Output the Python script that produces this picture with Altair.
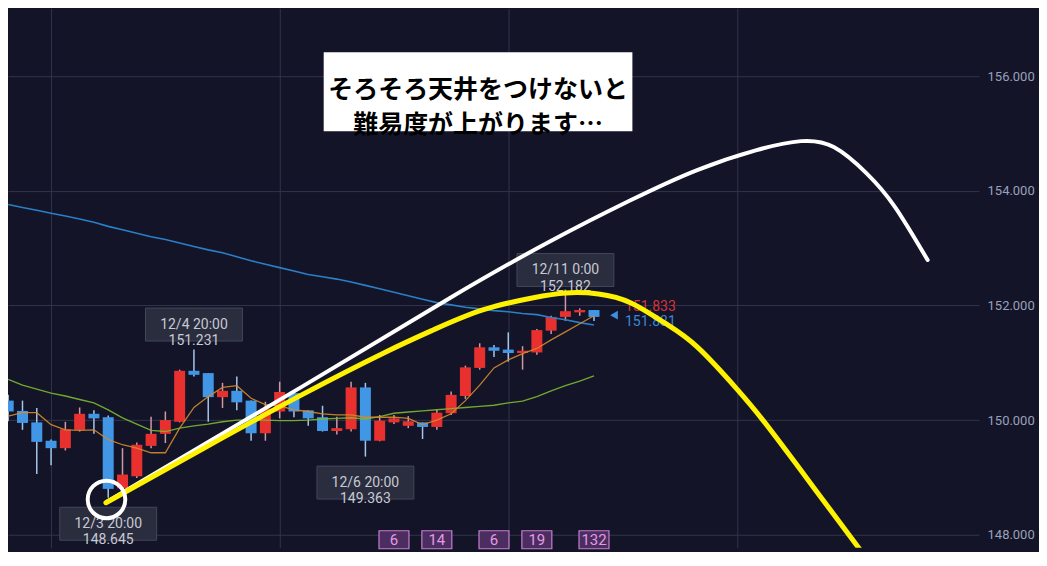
import altair as alt
import pandas as pd

# ---------------- data ----------------
candle_i = list(range(42))
opens = [150.34, 150.16, 149.96, 149.64, 149.51, 149.83, 150.11, 150.05, 148.81, 149.02,
         149.55, 149.76, 149.97, 150.86, 150.82, 150.40, 150.51, 150.34, 149.77, 150.15,
         150.47, 150.17, 150.05, 149.81, 149.84, 150.57, 149.64, 149.96, 149.90, 149.96,
         149.88, 150.12, 150.42, 150.91, 151.27, 151.23, 151.17, 151.18, 151.56, 151.80,
         151.88, 151.92]
highs = [150.44, 150.34, 150.21, 149.66, 149.97, 150.22, 150.17, 150.08, 149.51, 149.61,
         150.06, 150.15, 150.88, 151.231, 150.82, 150.65, 150.76, 150.34, 150.32, 150.67,
         150.47, 150.17, 150.25, 150.06, 150.67, 150.65, 150.09, 150.09, 150.07, 149.96,
         150.18, 150.50, 150.95, 151.34, 151.31, 151.53, 151.29, 151.59, 151.82, 152.182,
         151.95, 151.92]
lows = [149.98, 149.83, 149.06, 149.21, 149.47, 149.80, 149.76, 148.645, 148.78, 148.99,
        149.51, 149.60, 149.96, 150.76, 149.97, 150.21, 150.17, 149.64, 149.64, 150.03,
        150.05, 149.90, 149.80, 149.75, 149.80, 149.363, 149.63, 149.93, 149.86, 149.67,
        149.83, 150.09, 150.37, 150.88, 151.10, 151.02, 150.88, 151.14, 151.50, 151.73,
        151.82, 151.73]
closes = [150.15, 149.95, 149.62, 149.51, 149.84, 150.11, 150.03, 148.80, 149.05, 149.57,
          149.76, 150.00, 150.86, 150.79, 150.40, 150.51, 150.31, 149.77, 150.20, 150.49,
          150.15, 150.03, 149.81, 149.86, 150.57, 149.64, 149.99, 150.03, 149.98, 149.88,
          150.13, 150.44, 150.92, 151.27, 151.21, 151.17, 151.21, 151.57, 151.80, 151.90,
          151.92, 151.80]

ma_short = [150.07, 150.13, 150.13, 149.92, 149.83, 149.82, 149.83, 149.66, 149.57, 149.51,
            149.43, 149.43, 149.86, 150.22, 150.41, 150.57, 150.60, 150.38, 150.27, 150.25,
            150.18, 150.15, 150.11, 150.09, 150.09, 150.05, 150.05, 150.05, 150.03, 149.92,
            150.00, 150.11, 150.34, 150.61, 150.91, 151.05, 151.16, 151.25, 151.40, 151.54,
            151.68, 151.82]
ma_mid = [150.71, 150.61, 150.54, 150.47, 150.42, 150.36, 150.30, 150.18, 150.04, 149.93,
          149.82, 149.80, 149.86, 149.90, 149.93, 149.97, 150.00, 150.00, 150.00, 149.99,
          149.99, 150.00, 150.02, 150.03, 150.04, 150.02, 150.06, 150.12, 150.14, 150.16,
          150.18, 150.20, 150.22, 150.24, 150.26, 150.30, 150.33, 150.41, 150.51, 150.60,
          150.68, 150.77]
ma_long = [153.76, 153.71, 153.66, 153.61, 153.56, 153.51, 153.45, 153.38, 153.32, 153.26,
           153.20, 153.15, 153.09, 153.03, 152.97, 152.92, 152.85, 152.78, 152.72, 152.66,
           152.60, 152.54, 152.50, 152.46, 152.41, 152.35, 152.29, 152.23, 152.17, 152.11,
           152.05, 152.01, 151.97, 151.94, 151.91, 151.89, 151.86, 151.84, 151.79, 151.75,
           151.70, 151.66]

# hand-drawn curves (candle index, price)
white_i = [6.91, 20.54, 30.92, 37.84, 43.59, 48.22, 52.38, 55.49, 57.78, 60.06, 62.07, 64.35]
white_p = [148.575, 150.580, 152.131, 153.107, 153.839, 154.362, 154.710, 154.867, 154.763,
           154.309, 153.717, 152.793]
yellow_i = [6.84, 13.62, 20.54, 26.29, 29.75, 33.21, 36.67, 39.02, 41.31, 43.59, 45.94, 48.22,
            50.99, 52.86, 55.14, 57.43, 59.78]
yellow_p = [148.558, 149.499, 150.440, 151.172, 151.573, 151.922, 152.131, 152.218, 152.200,
            152.044, 151.695, 151.277, 150.545, 149.987, 149.237, 148.471, 147.686]

circle_i = [6.88]
circle_p = [148.615]

callout_i = [7, 13, 25, 39]
callout_time = ["12/3 20:00", "12/4 20:00", "12/6 20:00", "12/11 0:00"]
callout_price = [148.645, 151.231, 149.363, 152.182]
callout_side = ["low", "high", "low", "high"]

badge_i = [27, 30, 34, 37, 41]
badge_text = ["6", "14", "6", "19", "132"]

ask_price = 151.833
bid_price = 151.831
last_i = 41

note_lines = ["そろそろ天井をつけないと", "難易度が上がります…"]

grid_i = [3, 19, 35, 51]
y_ticks = [148, 150, 152, 154, 156]

# ---------------- styles ----------------
BG = "#131428"
GRID = "#31344a"
UP = "#e8302f"
DOWN = "#4196e6"
UP_WICK = "#cf98a2"
DOWN_WICK = "#a2c6ea"

W, H = 972, 540
XS = alt.Scale(domain=[0.3356, 67.60], nice=False, zero=False)
YS = alt.Scale(domain=[147.773, 157.185], nice=False, zero=False)
XAX = alt.Axis(values=grid_i, grid=True, gridColor=GRID, gridWidth=1, labels=False,
               ticks=False, domain=False, title=None)
YAX = alt.Axis(orient="right", values=y_ticks, format=".3f", grid=True, gridColor=GRID,
               gridWidth=1, ticks=False, domain=False, labelColor="#9aa0b8",
               labelFont="Roboto", labelFontSize=13, labelPadding=8, title=None)


def X(f):
    return alt.X(f, type="quantitative", scale=XS, axis=XAX)


def Y(f):
    return alt.Y(f, type="quantitative", scale=YS, axis=YAX)


candles = pd.DataFrame({"i": candle_i, "open": opens, "high": highs, "low": lows, "close": closes})

wicks = alt.Chart(candles).transform_calculate(
    wc=f"datum.close >= datum.open ? '{UP_WICK}' : '{DOWN_WICK}'"
).mark_rule(strokeWidth=1.5, clip=True).encode(
    x=X("i"), y=Y("low"), y2="high", color=alt.Color("wc:N", scale=None)
)

bodies = alt.Chart(candles).transform_calculate(
    bc=f"datum.close >= datum.open ? '{UP}' : '{DOWN}'"
).mark_bar(size=11, clip=True).encode(
    x=X("i"), y=Y("open"), y2="close", color=alt.Color("bc:N", scale=None)
)

ma = pd.DataFrame({"i": candle_i, "s": ma_short, "m": ma_mid, "l": ma_long})
line_long = alt.Chart(ma).mark_line(color="#2a7fc6", strokeWidth=1.6, clip=True).encode(x=X("i"), y=Y("l"))
line_mid = alt.Chart(ma).mark_line(color="#7cb82f", strokeWidth=1.4, clip=True, opacity=0.9).encode(x=X("i"), y=Y("m"))
line_short = alt.Chart(ma).mark_line(color="#d48a2c", strokeWidth=1.3, clip=True, opacity=0.9).encode(x=X("i"), y=Y("s"))

co = pd.DataFrame({"i": callout_i, "p": callout_price, "side": callout_side,
                   "label": [t + "\n" + f"{p:.3f}" for t, p in zip(callout_time, callout_price)]})
co_hi = co[co.side == "high"]
co_lo = co[co.side == "low"]
BOX_PATH = "M-1,-0.3402H1V0.3402H-1Z"


def callout_layers(df, off):
    box = alt.Chart(df).mark_point(shape=BOX_PATH, size=9409, filled=True, fill="#2a2d3e",
                                   stroke="#43465a", strokeWidth=1, opacity=1, yOffset=off).encode(
        x=X("i"), y=Y("p"))
    txt = alt.Chart(df).mark_text(font="Roboto", fontSize=14, color="#c7cad4", lineBreak="\n",
                                  lineHeight=16.5, baseline="middle", align="center", dy=off).encode(
        x=X("i"), y=Y("p"), text="label:N")
    return [box, txt]


badges = pd.DataFrame({"i": badge_i, "t": badge_text})
badge_box = alt.Chart(badges).mark_point(shape="M-1,-0.6H1V0.6H-1Z", size=900, filled=True,
                                         fill="#4b2d5f", stroke="#c67ed0", strokeWidth=1.2,
                                         opacity=1).encode(x=X("i"), y=alt.value(532))
badge_txt = alt.Chart(badges).mark_text(font="Roboto", fontSize=15, color="#e39ae6",
                                        baseline="middle", align="center").encode(
    x=X("i"), y=alt.value(532), text="t:N")

quote = pd.DataFrame({"i": [last_i, last_i], "p": [ask_price, bid_price],
                      "t": [f"{ask_price:.3f}", f"{bid_price:.3f}"]})
tri = alt.Chart(quote.iloc[[1]]).mark_point(shape="triangle-left", filled=True, size=80,
                                            color="#3f8fe0", opacity=1, xOffset=20).encode(
    x=X("i"), y=Y("p"))
ask_txt = alt.Chart(quote.iloc[[0]]).mark_text(font="Roboto", fontSize=14, color="#d8333a",
                                               align="left", baseline="middle", dx=31, dy=-8).encode(
    x=X("i"), y=Y("p"), text="t:N")
bid_txt = alt.Chart(quote.iloc[[1]]).mark_text(font="Roboto", fontSize=14, color="#3a86d6",
                                               align="left", baseline="middle", dx=31, dy=7).encode(
    x=X("i"), y=Y("p"), text="t:N")

white = alt.Chart(pd.DataFrame({"i": white_i, "p": white_p})).mark_line(
    color="white", strokeWidth=4, interpolate="natural", strokeCap="round", clip=True).encode(
    x=X("i"), y=Y("p"))
yellow = alt.Chart(pd.DataFrame({"i": yellow_i, "p": yellow_p})).mark_line(
    color="#fff200", strokeWidth=5, interpolate="natural", strokeCap="round", clip=True).encode(
    x=X("i"), y=Y("p"))
circle = alt.Chart(pd.DataFrame({"i": circle_i, "p": circle_p})).mark_point(
    shape="circle", filled=False, size=1414, stroke="white", strokeWidth=4, opacity=1).encode(
    x=X("i"), y=Y("p"))

note_df = pd.DataFrame({"t": ["\n".join(note_lines)]})
note_box = alt.Chart(note_df).mark_point(shape="M-1,-0.2557H1V0.2557H-1Z", size=95481, filled=True,
                                         fill="white", strokeWidth=0, opacity=1).encode(
    x=alt.value(470.5), y=alt.value(83.5))
note_txt = alt.Chart(note_df).mark_text(font="Noto Sans CJK JP", fontWeight="bold", fontSize=25,
                                        color="black", lineBreak="\n", lineHeight=35,
                                        baseline="middle", align="center").encode(
    x=alt.value(470.5), y=alt.value(81.5), text="t:N")

layers = [wicks, bodies, line_long, line_mid, line_short]
layers += callout_layers(co_hi, -25) + callout_layers(co_lo, 26)
layers += [badge_box, badge_txt, tri, ask_txt, bid_txt, white, yellow, circle, note_box, note_txt]

chart = alt.layer(*layers).properties(
    width=W, height=H, padding={"left": 0, "top": 0, "right": 4, "bottom": 0}
).configure(background=BG).configure_view(stroke=None)

chart.save("out.html", embed_options={"renderer": "svg", "actions": False})
